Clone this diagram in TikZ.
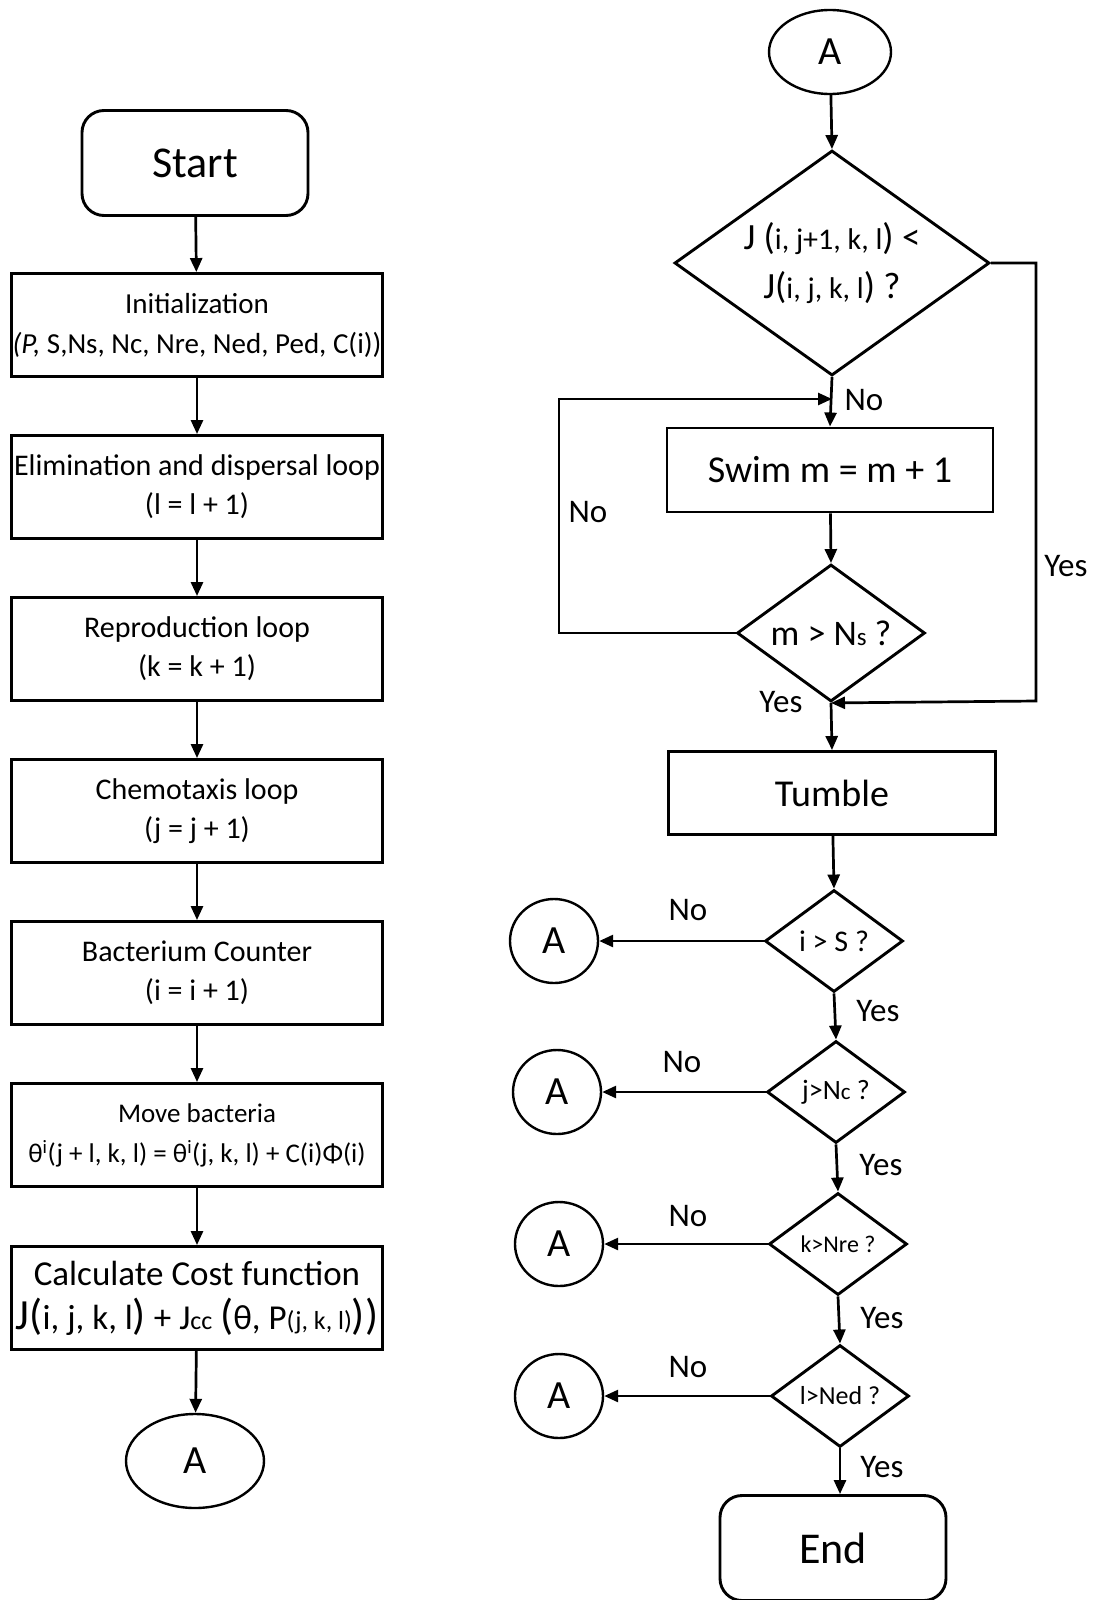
\documentclass[tikz,border=0pt]{standalone}
\usepackage{fontspec}
\setmainfont{Carlito}
\usetikzlibrary{shapes.geometric,arrows.meta,positioning}

\newcommand{\fs}[1]{\fontsize{#1}{#1}\selectfont}

\tikzset{
  procbox/.style={draw, line width=2.9pt, minimum width=371pt, minimum height=103pt,
    inner sep=0pt, align=center, font=\fontsize{30}{39}\selectfont},
  rbox/.style={draw, line width=2.9pt, minimum width=326pt, minimum height=84pt,
    inner sep=0pt, align=center},
  termbox/.style={draw, line width=2.9pt, rounded corners=22pt, minimum width=226pt,
    minimum height=105pt, inner sep=0pt, font=\fs{44}},
  decbox/.style={draw, diamond, line width=2.9pt, inner sep=0pt, aspect=1.35, align=center},
  conn/.style={draw, ellipse, line width=2.4pt, inner sep=0pt, font=\fs{40}},
  flow/.style={-{Triangle[length=14pt,width=12pt]}, line width=2.7pt},
  lbl/.style={inner sep=0pt, font=\fs{33}},
}

\begin{document}
\begin{tikzpicture}[x=1pt,y=1pt,yscale=-1]
\useasboundingbox (0,0) rectangle (1098,1600);

% left column
\node[termbox] (start) at (195,163) {Start};
\node[procbox, font=\fontsize{29}{40}\selectfont] (init) at (197,325)
  {Initialization\\\textit{(P,} S,Ns, Nc, Nre, Ned, Ped, C(i))};
\node[procbox] (elim) at (197,487) {Elimination and dispersal loop\\(l = l + 1)};
\node[procbox] (repro) at (197,649) {Reproduction loop\\(k = k + 1)};
\node[procbox] (chemo) at (197,811) {Chemotaxis loop\\(j = j + 1)};
\node[procbox] (bact) at (197,973) {Bacterium Counter\\(i = i + 1)};
\node[procbox, font=\fontsize{27}{40}\selectfont] (move) at (197,1135)
  {Move bacteria\\θ\textsuperscript{i}(j + l, k, l) = θ\textsuperscript{i}(j, k, l) + C(i)Φ(i)};
\node[procbox, font=\fontsize{35}{44}\selectfont] (calc) at (197,1298)
  {Calculate Cost function\\{\fs{43}J(}i, j, k, l{\fs{43})} + J{\fs{26}cc} {\fs{43}(}θ, P{\fs{26}(j, k, l)}{\fs{43}))}};
\node[conn, minimum width=138pt, minimum height=94pt] (aL) at (195,1461) {A};

\draw[flow] (start) -- (init);
\draw[flow] (init) -- (elim);
\draw[flow] (elim) -- (repro);
\draw[flow] (repro) -- (chemo);
\draw[flow] (chemo) -- (bact);
\draw[flow] (bact) -- (move);
\draw[flow] (move) -- (calc);
\draw[flow] (calc) -- (aL);

% right column
\node[conn, minimum width=122pt, minimum height=84pt] (aTop) at (830,52) {A};
\node[decbox, minimum width=315pt, minimum height=225pt, font=\fs{30}] (dJ) at (832,263)
  {{\fs{37}J (}i, j+1, k, l{\fs{37}) <}\\[15pt]{\fs{37}J(}i, j, k, l{\fs{37}) ?}};
\node[rbox, font=\fs{38}] (swim) at (830,470) {Swim m = m + 1};
\node[decbox, minimum width=188pt, minimum height=137pt, font=\fs{36}] (dM) at (831,633)
  {m > N{\fs{25}s} ?};
\node[rbox, minimum width=327pt, minimum height=83pt, font=\fs{38}] (tumble) at (832,793) {Tumble};

\node[decbox, minimum width=138pt, minimum height=102pt, font=\fs{30}] (dS) at (834,941) {i > S ?};
\node[decbox, minimum width=138pt, minimum height=102pt, font=\fs{28}] (dNc) at (836,1092) {j>N{\fs{23}c} ?};
\node[decbox, minimum width=138pt, minimum height=102pt, font=\fs{24}] (dNre) at (838,1244) {k>Nre ?};
\node[decbox, minimum width=138pt, minimum height=102pt, font=\fs{26}] (dNed) at (840,1396) {l>Ned ?};
\node[termbox] (end) at (833,1548) {End};

\node[conn, minimum width=88pt, minimum height=84pt] (aS) at (554,941) {A};
\node[conn, minimum width=88pt, minimum height=84pt] (aNc) at (557,1092) {A};
\node[conn, minimum width=88pt, minimum height=84pt] (aNre) at (559,1244) {A};
\node[conn, minimum width=88pt, minimum height=84pt] (aNed) at (559,1396) {A};

\coordinate (jn) at (832,399);
\coordinate (loopL) at (559,399);
\coordinate (yesR) at (1036,701);

\draw[flow] (aTop) -- (dJ.north);
\draw[flow] (dJ.south) -- (swim.north);
\draw[flow] (swim) -- (dM.north);
\draw[flow] (dM.west) -| (loopL) -- (jn);
\draw[flow] (dJ.east) -| (yesR) -- (dM.south);
\draw[flow] (dM.south) -- (tumble.north);
\draw[flow] (tumble) -- (dS.north);
\draw[flow] (dS.south) -- (dNc.north);
\draw[flow] (dNc.south) -- (dNre.north);
\draw[flow] (dNre.south) -- (dNed.north);
\draw[flow] (dNed.south) -- (dNed.south |- end.north);
\draw[flow] (dS.west) -- (aS.east);
\draw[flow] (dNc.west) -- (aNc.east);
\draw[flow] (dNre.west) -- (aNre.east);
\draw[flow] (dNed.west) -- (aNed.east);

% labels
\node[lbl] (noJ) at (864,400) {No};
\node[lbl] (noM) at (588,512) {No};
\node[lbl] (yesJ) at (1066,566) {Yes};
\node[lbl] (yesM) at (781,702) {Yes};
\node[lbl] (noS) at (688,910) {No};
\node[lbl] (noNc) at (682,1062) {No};
\node[lbl] (noNre) at (688,1216) {No};
\node[lbl] (noNed) at (688,1367) {No};
\node[lbl] (yesS) at (878,1011) {Yes};
\node[lbl] (yesNc) at (881,1165) {Yes};
\node[lbl] (yesNre) at (882,1318) {Yes};
\node[lbl] (yesNed) at (882,1467) {Yes};
\end{tikzpicture}
\end{document}
